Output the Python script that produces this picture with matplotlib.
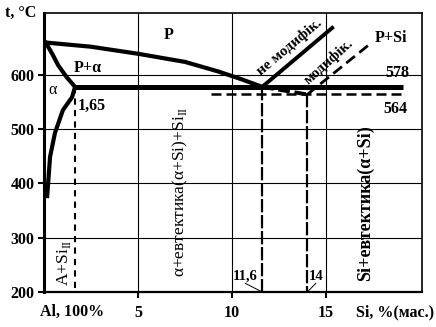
import numpy as np
import matplotlib.pyplot as plt

plt.rcParams['font.family'] = ['Liberation Serif', 'DejaVu Serif']
plt.rcParams['mathtext.fontset'] = 'custom'
plt.rcParams['mathtext.rm'] = 'Liberation Serif'
plt.rcParams['mathtext.bf'] = 'Liberation Serif:bold'

# лінії діаграми Al-Si (Si, % мас.; t, °C)
liquidus_si = [0.0, 2.5, 5.0, 7.5, 9.3, 10.5, 11.6]
liquidus_t = [660, 652, 639, 624, 606, 592, 578]
solidus_si = [0.1, 0.45, 0.75, 1.2, 1.65]
solidus_t = [659, 638, 618, 596, 578]
solvus_si = [1.65, 1.49, 1.0, 0.58, 0.32, 0.16]
solvus_t = [578, 559, 535, 493, 449, 373]
modif_liq_si = [11.6, 14.0]
modif_liq_t = [578, 564]
nemodif_si = [11.6, 15.4]
nemodif_t = [578, 689]
modif_si = [14.0, 17.4]
modif_t = [564, 659]

t_eut = 578
t_eut_mod = 564
si_alpha = 1.65
si_eut = 11.6
si_eut_mod = 14.0

fig = plt.figure(figsize=(4.36, 3.27), dpi=100)
ax = fig.add_axes([0.101, 0.107, 0.867, 0.853])
ax.set_xlim(0, 20.1)
ax.set_ylim(200, 714)

for x in [5, 10, 15]:
    ax.axvline(x, color='black', lw=0.8, zorder=1)
for y in [300, 400, 500, 600]:
    ax.axhline(y, color='black', lw=0.8, zorder=1)

ax.plot(liquidus_si, liquidus_t, color='black', lw=3, solid_capstyle='butt')
ax.plot(solidus_si, solidus_t, color='black', lw=3)
ax.plot(solvus_si, solvus_t, color='black', lw=3, solid_capstyle='butt')
ax.plot(modif_liq_si, modif_liq_t, color='black', lw=2.8, ls=(0, (3, 1.2)))
ax.plot(nemodif_si, nemodif_t, color='black', lw=2.8, solid_capstyle='butt')
ax.plot(modif_si, modif_t, color='black', lw=2, ls=(0, (4, 2)))

ax.plot([si_alpha, 19.1], [t_eut, t_eut], color='black', lw=3.6, solid_capstyle='butt')
ax.plot([8.9, 19.0], [t_eut_mod, t_eut_mod], color='black', lw=1.8, ls=(0, (4, 2)))

ax.plot([si_alpha, si_alpha], [t_eut, 200], color='black', lw=1.5, ls=(0, (3, 2.5)))
ax.plot([si_eut, si_eut], [t_eut, 200], color='black', lw=1.6, ls=(0, (6, 1.2)))
ax.plot([si_eut_mod, si_eut_mod], [t_eut_mod, 200], color='black', lw=1.6, ls=(0, (6, 1.2)))

# виноски 11,6 та 14
ax.plot([10.7, 11.6], [216, 200], color='black', lw=0.7)
ax.plot([14.45, 14.0], [216, 200], color='black', lw=0.7)

ax.set_xticks([5, 10, 15])
ax.set_xticklabels(['5', '10', '15'])
ax.set_yticks([200, 300, 400, 500, 600])
ax.tick_params(labelsize=11.5, length=4, width=1.5, direction='out', pad=3)
ax.tick_params(axis='x', pad=5)
for lbl in ax.get_xticklabels() + ax.get_yticklabels():
    lbl.set_fontweight('bold')

ax.spines['left'].set_linewidth(2.2)
ax.spines['bottom'].set_linewidth(1.6)
ax.spines['top'].set_linewidth(1.2)
ax.spines['right'].set_linewidth(1.2)

fs = 11.5
ax.text(6.65, 674, 'P', fontsize=fs, fontweight='bold', ha='center', va='center')
ax.text(2.3, 613, 'P+α', fontsize=fs, fontweight='bold', ha='center', va='center')
ax.text(0.45, 572, 'α', fontsize=fs, ha='center', va='center')
ax.text(1.8, 543, '1,65', fontsize=fs, fontweight='bold', ha='left', va='center')
ax.text(18.45, 668, 'P+Si', fontsize=fs, fontweight='bold', ha='center', va='center')
ax.text(18.8, 603, '578', fontsize=fs, fontweight='bold', ha='center', va='center')
ax.text(18.7, 537, '564', fontsize=fs, fontweight='bold', ha='center', va='center')
ax.text(13.05, 652, 'не модифік.', fontsize=11, fontweight='bold', rotation=40,
        ha='center', va='center')
ax.text(15.15, 624, 'модифік.', fontsize=11, fontweight='bold', rotation=42,
        ha='center', va='center')
ax.text(10.7, 229, '11,6', fontsize=10.5, fontweight='bold', ha='center', va='center')
ax.text(14.45, 229, '14', fontsize=10.5, fontweight='bold', ha='center', va='center')

ax.text(1.06, 253, 'A+Si$_{\\mathrm{II}}$', fontsize=12.5, rotation=90, ha='center', va='center')
ax.text(7.25, 384, 'α+евтектика(α+Si)+Si$_{\\mathrm{II}}$', fontsize=12.5, rotation=90,
        ha='center', va='center')
ax.text(17.07, 364, 'Si+евтектика(α+Si)', fontsize=13, fontweight='bold', rotation=90,
        ha='center', va='center')

fig.text(0.012, 0.96, 't, °C', fontsize=fs, fontweight='bold', ha='left', va='center')
fig.text(0.092, 0.045, 'Al, 100%', fontsize=fs, fontweight='bold', ha='left', va='center')
fig.text(0.995, 0.045, 'Si, %(мас.)', fontsize=fs, fontweight='bold', ha='right', va='center')

fig.savefig('out.png', dpi=100)
